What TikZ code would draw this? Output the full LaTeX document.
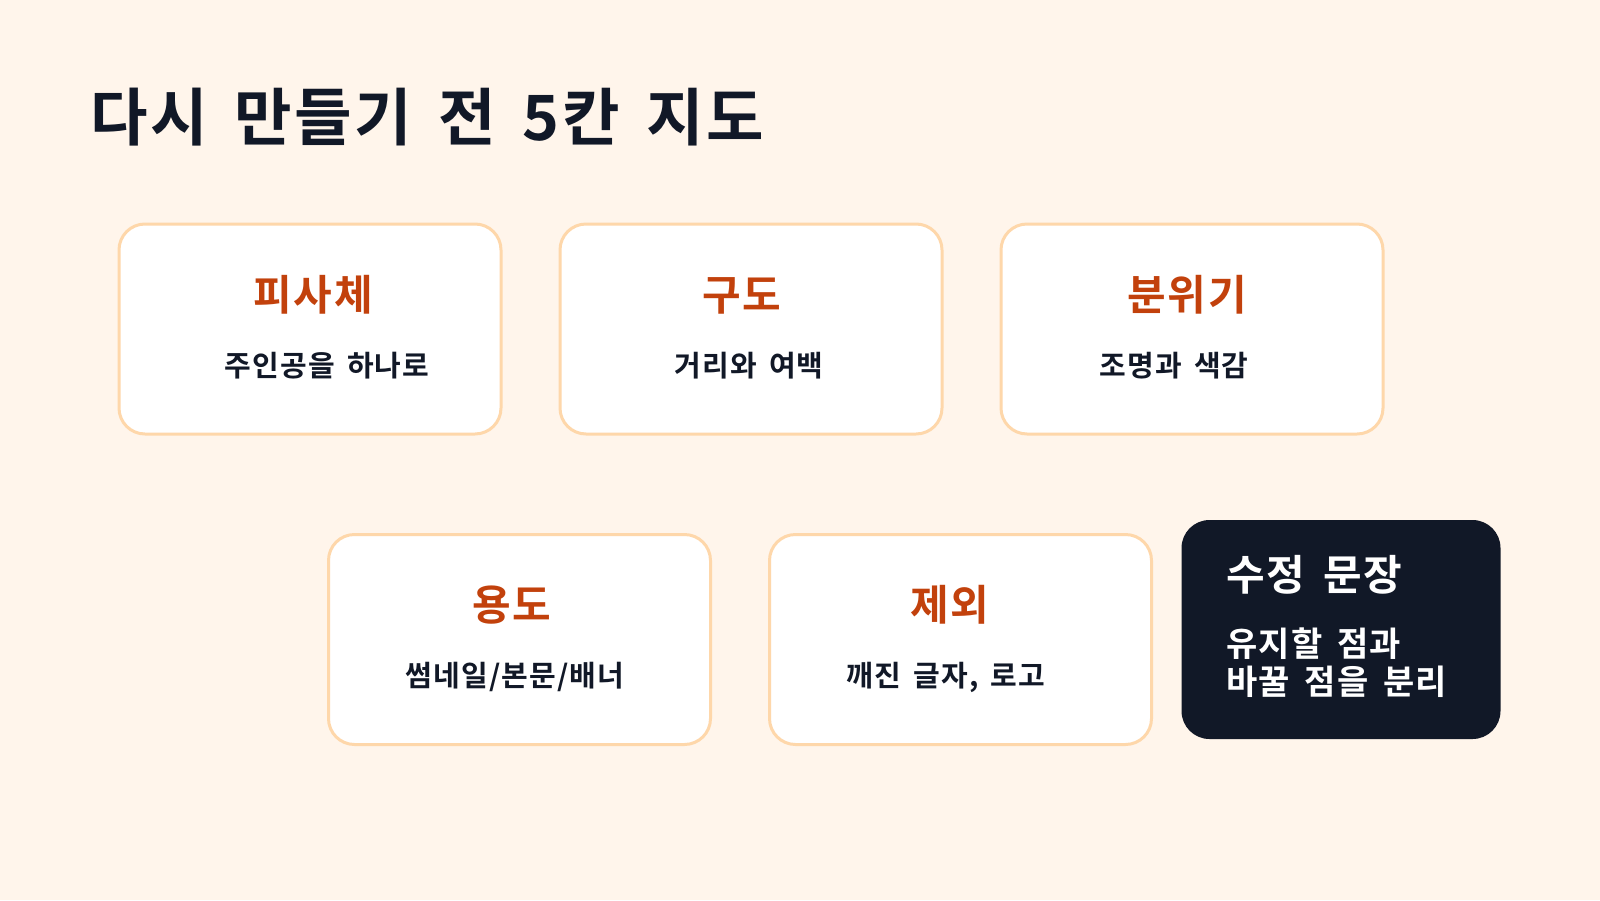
\documentclass[tikz,border=0pt]{standalone}
\usepackage{fontspec}
\setmainfont{Noto Sans CJK KR}[BoldFont={Noto Sans CJK KR Bold},
    LetterSpace=4, WordSpace=1.6]
\usepackage{tikz}
\usetikzlibrary{positioning}
\definecolor{paper}{HTML}{FFF5EB}
\definecolor{ink}{HTML}{111827}
\definecolor{rust}{HTML}{C2410C}
\definecolor{peach}{HTML}{FED7AA}
\tikzstyle{card} = [draw=peach, fill=white, line width=3pt,
    rectangle, rounded corners=26pt, minimum width=382pt,
    minimum height=210pt, inner sep=0pt, outer sep=0pt]
\tikzstyle{notecard} = [fill=ink, rectangle, rounded corners=28pt,
    minimum width=319pt, minimum height=219pt, inner sep=0pt, outer sep=0pt]
\tikzstyle{cardtitle} = [text=rust, anchor=base, inner sep=0pt,
    font=\bfseries\fontsize{42}{48}\selectfont]
\tikzstyle{cardtext} = [text=ink, anchor=base, inner sep=0pt,
    font=\bfseries\fontsize{29}{35}\selectfont]

\begin{document}
\begin{tikzpicture}[x=1pt,y=-1pt]

\fill[paper] (0,0) rectangle (1600,900);
\useasboundingbox (0,0) rectangle (1600,900);

\node[anchor=base west, inner sep=0pt, text=ink,
    font=\bfseries\fontsize{62.5}{70}\selectfont] (title) at (90,140)
    {다시 만들기 전 5칸 지도};

% first row
\node [card] (subject) at (310,329) {};
\node [card, right=59pt of subject] (framing) {};
\node [card, right=59pt of framing] (mood) {};

\node[cardtitle] (subject-t) at (313,310) {피사체};
\node[cardtext] (subject-s) at (327,376) {주인공을 하나로};
\node[cardtitle] (framing-t) at (742,310) {구도};
\node[cardtext] (framing-s) at (749,376) {거리와 여백};
\node[cardtitle] (mood-t) at (1187,310) {분위기};
\node[cardtext] (mood-s) at (1174,376) {조명과 색감};

% second row
\node [card] (use) at (519.5,639.5) {};
\node [card, right=59pt of use] (skip) {};
\node [notecard, right=30pt of skip, yshift=10pt] (note) {};

\node[cardtitle] (use-t) at (512,620) {용도};
\node[cardtext] (use-s) at (515,686) {썸네일/본문/배너};
\node[cardtitle] (skip-t) at (950,620) {제외};
\node[cardtext] (skip-s) at (946,686) {깨진 글자, 로고};

\node[anchor=base west, inner sep=0pt, text=white,
    font=\bfseries\fontsize{42}{48}\selectfont] (note-t) at (1226,590) {수정 문장};
\node[anchor=base west, inner sep=0pt, text=white, align=left,
    font=\bfseries\fontsize{34}{38}\selectfont] (note-s) at (1226,694)
    {유지할 점과\\바꿀 점을 분리};

\end{tikzpicture}
\end{document}
